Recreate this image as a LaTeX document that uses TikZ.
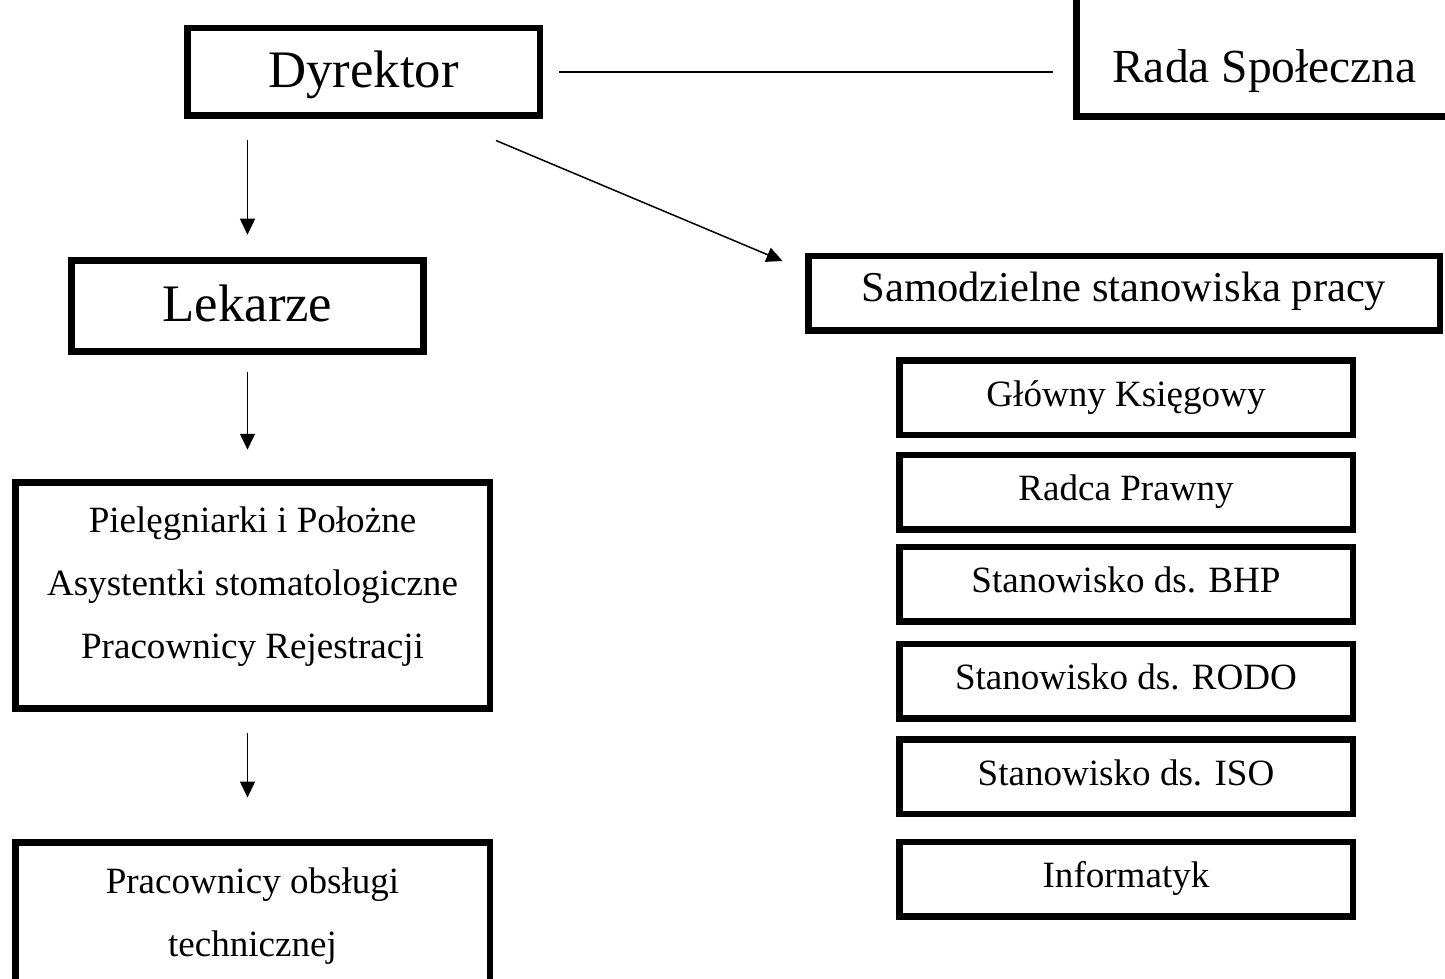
\documentclass[tikz,border=0pt]{standalone}
\usepackage{fontspec}
\setmainfont{Liberation Serif}
\usetikzlibrary{positioning,arrows.meta,calc}
\newcommand{\BigTxt}{\fontsize{30}{36}\selectfont}
\newcommand{\MidTxt}{\fontsize{27}{32}\selectfont}
\newcommand{\SamTxt}{\fontsize{24.2}{29}\selectfont}
\newcommand{\SmallTxt}{\fontsize{21.1}{35.7}\selectfont}

\begin{document}
\begin{tikzpicture}[
    frame/.style={rectangle, draw, line width=3.7pt, inner sep=0pt, align=center},
    head/.style={frame, font=\BigTxt, text height=22pt, text depth=4.5pt},
    post/.style={frame, font=\SmallTxt, text height=14.8pt, text depth=4.6pt, minimum width=9.07cm, minimum height=1.49cm},
    arrow/.style={-{Triangle[length=0.32cm,width=0.3cm]}, line width=0.85pt}
]
    \useasboundingbox (0,0) rectangle (28.9,-19.58);

    % Top: director and the council
    \node[head, minimum width=7.05cm, minimum height=1.75cm] (dyr) at (7.27,-1.44) {Dyrektor};
    \node[frame, font=\MidTxt, minimum width=7.52cm, minimum height=2.73cm, text height=1.53cm, text depth=5.4pt] (rada) at (25.29,-0.97) {Rada Społeczna};

    % Left: medical staff
    \node[head, minimum width=7.04cm, minimum height=1.82cm] (lek) at (4.95,-6.12) {Lekarze};
    \node[frame, font=\SmallTxt, minimum width=9.49cm, minimum height=4.52cm, text height=2.66cm, text depth=0.16cm] (piel) at (5.05,-11.91) {Pielęgniarki i Położne\\Asystentki stomatologiczne\\Pracownicy Rejestracji};
    \node[frame, font=\SmallTxt, minimum width=9.49cm, minimum height=3.15cm, text height=1.56cm, text depth=0.16cm] (obsl) at (5.05,-18.42) {Pracownicy obsługi\\technicznej};

    % Right: independent posts
    \node[frame, font=\SamTxt, text height=17pt, text depth=8pt, minimum width=12.63cm, minimum height=1.49cm] (sam) at (22.48,-5.87) {Samodzielne stanowiska pracy};
    \node[post] (ksieg) at (22.52,-7.95) {Główny Księgowy};
    \node[post] (radca) at (22.52,-9.84) {Radca Prawny};
    \node[post] (bhp) at (22.52,-11.68) {Stanowisko ds. BHP};
    \node[post] (rodo) at (22.52,-13.62) {Stanowisko ds. RODO};
    \node[post] (iso) at (22.52,-15.53) {Stanowisko ds. ISO};
    \node[post] (inf) at (22.52,-17.58) {Informatyk};

    % Connections
    \draw[line width=0.85pt, shorten <=0.32cm, shorten >=0.41cm] (dyr.east) -- (dyr.east -| rada.west);
    \draw[arrow] ($(dyr.south)+(2.65,-0.43)$) -- ($(sam.west)+(-0.45,0.65)$);
    \draw[arrow, shorten <=0.43cm, shorten >=0.45cm] (dyr.south -| lek.north) -- (lek.north);
    \draw[arrow, shorten <=0.35cm, shorten >=0.59cm] (lek.south) -- (lek.south |- piel.north);
    \draw[arrow, shorten <=0.42cm, shorten >=0.83cm] (piel.south -| lek.south) -- (obsl.north -| lek.south);

\end{tikzpicture}
\end{document}
